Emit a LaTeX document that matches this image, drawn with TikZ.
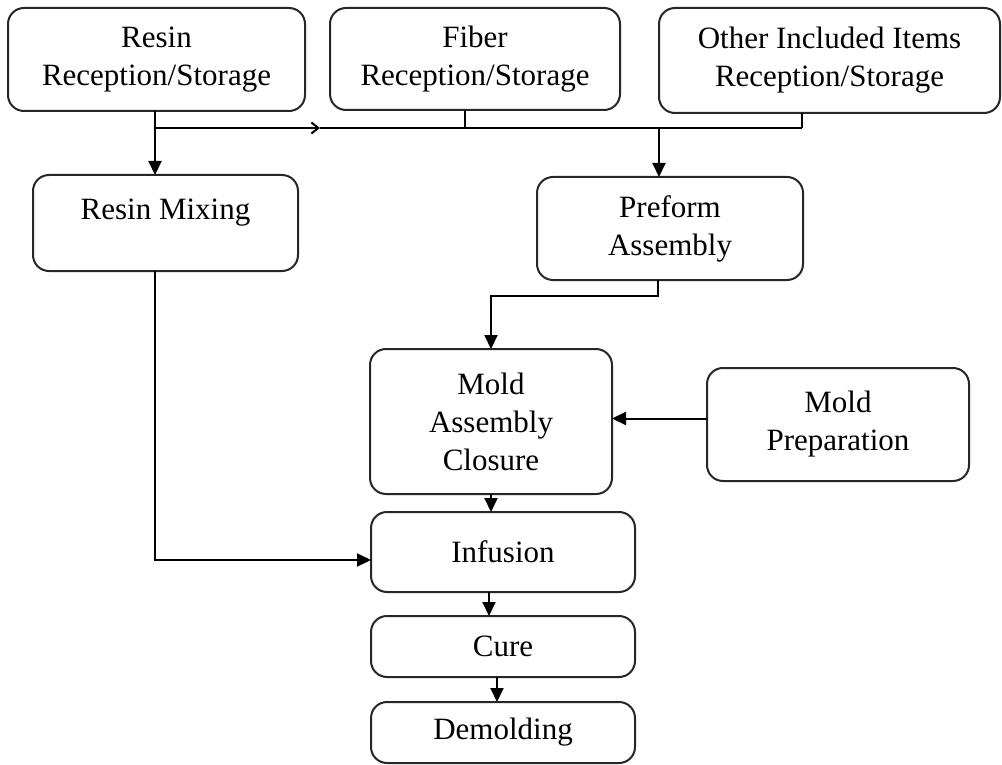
\documentclass[tikz,border=0pt]{standalone}
\usepackage{fontspec}
\setmainfont{Liberation Serif}
\usetikzlibrary{arrows.meta,positioning,calc}

\newcommand{\stagefont}{\fontsize{15.5}{19}\selectfont}

\tikzset{
  stage/.style={draw=black!85, line width=1pt, rounded corners=8pt,
    align=center, inner sep=0pt, outer sep=0pt, font=\stagefont},
  feed/.style={line width=1pt},
  flow/.style={feed, -{Triangle[length=7pt,width=6.5pt]}}
}

\begin{document}
\begin{tikzpicture}[x=0.5pt,y=-0.5pt]
    \useasboundingbox (0,0) rectangle (1002,765);
    % reception boxes
    \node[stage, minimum width=148.5pt, minimum height=51.5pt] (resin) at (156.5,59.5) {Resin\\Reception/Storage};
    \node[stage, minimum width=145pt, minimum height=51pt] (fiber) at (475,59) {Fiber\\Reception/Storage};
    \node[stage, minimum width=170.5pt, minimum height=52.5pt] (other) at (829.5,60.5) {Other Included Items\\Reception/Storage};
    % process boxes
    \node[stage, minimum width=132.5pt, minimum height=48pt, text depth=14pt] (rmix) at (165.5,223) {Resin Mixing};
    \node[stage, minimum width=133pt, minimum height=51.5pt] (preform) at (670,228.5) {Preform\\Assembly};
    \node[stage, minimum width=121pt, minimum height=72.5pt] (mold) at (491,421.5) {Mold\\Assembly\\Closure};
    \node[stage, minimum width=131pt, minimum height=56.5pt] (prep) at (838,424.5) {Mold\\Preparation};
    \node[stage, minimum width=132pt, minimum height=40pt] (infusion) at (503,552) {Infusion};
    \node[stage, minimum width=132pt, minimum height=30.5pt] (cure) at (503,646.5) {Cure};
    \node[stage, minimum width=132pt, minimum height=30.5pt] (demold) at (503,732.5) {Demolding};
    % collecting line
    \coordinate (busL) at (155,128);
    \coordinate (busmid) at (320,128);
    \coordinate (fibtap) at (465,128);
    \coordinate (pretap) at (659,128);
    \coordinate (busR) at (802,128);
    \draw[flow] (resin.south -| busL) -- (busL) -- (rmix.north -| busL);
    \draw[feed, -{Straight Barb[length=3.5pt,width=5.5pt]}] (busL) -- (busmid);
    \draw[feed] (busmid) -- (busR);
    \draw[feed] (fiber.south -| fibtap) -- (fibtap);
    \draw[feed] (other.south -| busR) -- (busR);
    \draw[flow] (pretap) -- (preform.north -| pretap);
    % preform to mold
    \coordinate (turn) at (658,296);
    \draw[flow] (preform.south -| turn) -- (turn) -| (mold.north);
    \draw[flow] ([yshift=3pt]prep.west) -- ([yshift=3pt]prep.west -| mold.east);
    \draw[flow] (mold.south) -- (mold.south |- infusion.north);
    % resin to infusion
    \coordinate (rmturn) at (155,560);
    \draw[flow] (rmix.south -| rmturn) -- (rmturn) -- (rmturn -| infusion.west);
    \draw[flow] ([xshift=-7pt]infusion.south) -- ([xshift=-7pt]cure.north);
    \draw[flow] ([xshift=-3pt]cure.south) -- ([xshift=-3pt]demold.north);
\end{tikzpicture}
\end{document}
